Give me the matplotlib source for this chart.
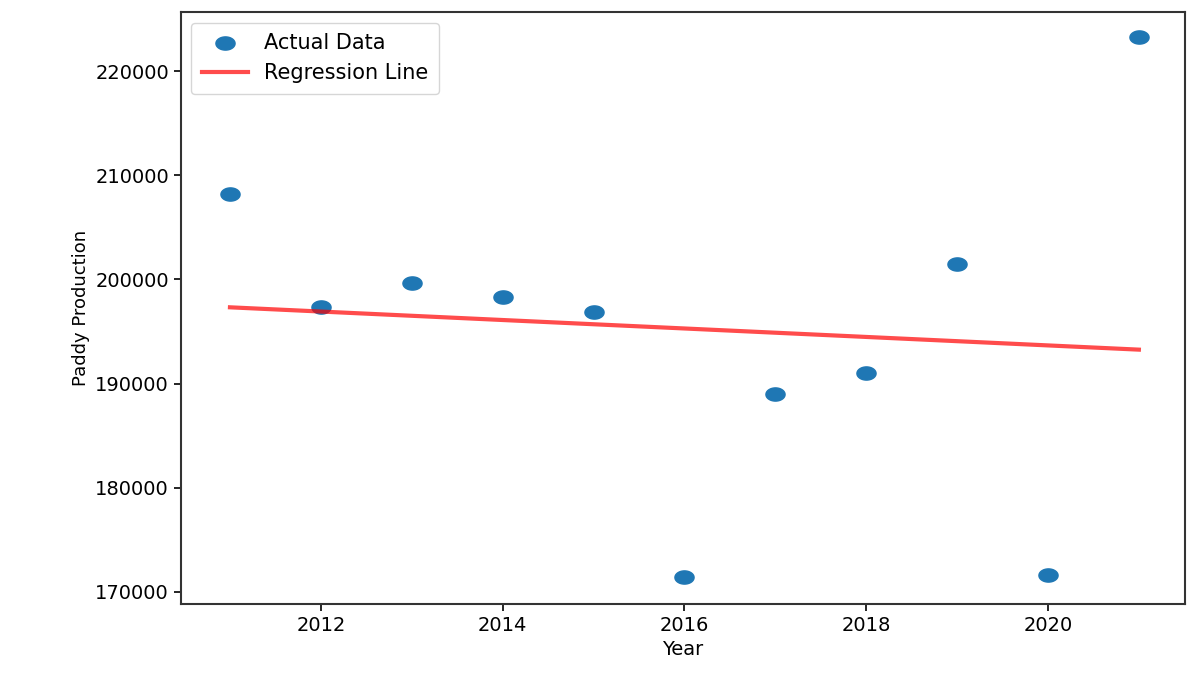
import matplotlib
matplotlib.use("Agg")
import matplotlib.pyplot as plt
import numpy as np
from matplotlib.path import Path

# data
years = [2011, 2012, 2013, 2014, 2015, 2016, 2017, 2018, 2019, 2020, 2021]
production = [208200, 197350, 199650, 198300, 196900, 171450,
              189000, 191000, 201500, 171600, 223250]

x = np.array(years, dtype=float)
y = np.array(production, dtype=float)

# least squares fit for the regression line
slope, intercept = np.polyfit(x, y, 1)
y_fit = slope * x + intercept

# the reference is stretched sideways, so use a wide ellipse as marker
t = np.linspace(0, 2 * np.pi, 60)
ellipse = Path(np.column_stack([1.45 * np.cos(t), np.sin(t)]), closed=True)

fig = plt.figure(figsize=(11.9, 6.74), dpi=100)
ax = fig.add_axes([0.152, 0.104, 0.844, 0.878])

ax.scatter(x, y, s=190, marker=ellipse, color='#1f77b4', label='Actual Data')
ax.plot(x, y_fit, color='red', alpha=0.7, lw=3, label='Regression Line')

ax.set_xlim(2010.46, 2021.51)
ax.set_ylim(168850, 225660)
ax.set_xticks([2012, 2014, 2016, 2018, 2020])
ax.set_yticks([170000, 180000, 190000, 200000, 210000, 220000])
ax.tick_params(labelsize=14, length=5, width=1.2)

ax.set_xlabel('Year', fontsize=14)
ax.set_ylabel('Paddy Production', fontsize=13,
              family=['Liberation Sans Narrow', 'DejaVu Sans'])

for sp in ax.spines.values():
    sp.set_linewidth(1.5)
    sp.set_color('#333333')

ax.legend(loc='upper left', fontsize=15, handlelength=2.2, borderpad=0.5)

fig.savefig('out.png', dpi=100)
